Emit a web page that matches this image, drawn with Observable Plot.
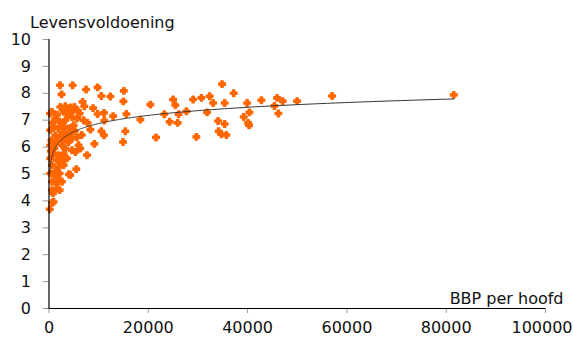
<!DOCTYPE html>
<html><head><meta charset="utf-8">
<script src="https://cdn.jsdelivr.net/npm/d3@7"></script>
<script src="https://cdn.jsdelivr.net/npm/@observablehq/plot@0.6"></script>
<style>body{margin:0;background:#fff;} svg{display:block;}</style>
</head><body><div id="chart"></div>
<script>
// GDP per capita (BBP per hoofd)
const gdp = [
34860,37200,24990,25450,29020,30690,32360,33050,35380,39900,42780,45940,47070,45400,49970,57020,81530,
23230,26110,27670,31840,40360,39210,46200,24300,25910,34050,35380,40100,40300,34170,34720,35730,21560,29680,20410,18400,
9790,15070,10540,12350,14970,8870,9790,11080,12900,15580,11140,8320,10540,11080,15370,9130,14910,
7460,4760,2220,2540,6770,7110,7660,5500,4000,
600,2280,3280,4290,5100,2940,3950,1270,2140,3280,4630,5640,6170,6970,7780,
260,930,1940,2940,3950,4960,1270,2280,3630,4630,5640,5960,260,1270,2620,3950,4630,5300,
930,1940,2940,260,1610,2620,3630,600,1940,2940,260,1070,2140,600,1470,2620,600,1610,2140,800,600,930,150,200,6300,4290,
1600,3600,4500,2600,5200,3000,1800,4100,700,1100,3300,2300,1300,500,6600,5800,400,1700,2900
];
// Life satisfaction (Levensvoldoening)
const satisfaction = [
8.34,8.00,7.77,7.56,7.77,7.83,7.89,7.64,7.64,7.64,7.74,7.83,7.71,7.53,7.71,7.90,7.94,
7.22,7.22,7.33,7.29,7.29,7.12,7.25,6.94,6.90,6.97,6.86,6.90,6.81,6.59,6.48,6.45,6.36,6.38,7.58,7.02,
8.22,8.09,7.90,7.88,7.70,7.45,7.23,7.27,7.15,7.23,6.99,6.65,6.59,6.44,6.59,6.12,6.19,
8.14,8.30,8.30,7.96,7.68,7.52,5.70,5.18,4.99,
7.31,7.49,7.52,7.47,7.49,7.31,7.19,7.06,6.94,7.00,7.12,7.06,7.25,7.00,6.90,
6.63,6.75,6.69,6.75,6.69,6.81,6.44,6.41,6.38,6.32,6.36,6.07,6.07,6.13,6.07,6.19,5.88,5.82,
5.76,5.70,5.76,5.58,5.51,5.45,5.58,5.33,5.26,5.33,5.02,4.96,5.02,4.71,4.65,4.71,4.40,4.46,4.40,4.28,3.93,3.96,3.69,7.25,5.95,4.96,
7.20,7.40,7.30,6.85,6.60,6.55,6.30,6.50,6.90,5.95,5.95,5.60,5.10,6.25,6.45,7.35,5.85,4.85,6.20
];
const xTicks = [0, 20000, 40000, 60000, 80000, 100000];
const yTicks = [0, 1, 2, 3, 4, 5, 6, 7, 8, 9, 10];
const yLabel = "Levensvoldoening";
const xLabel = "BBP per hoofd";

const points = gdp.map((g, i) => ({gdp: g, ls: satisfaction[i]}));

// logarithmic trend line (least squares of y on ln x), as in a spreadsheet trendline
const lx = points.map(d => Math.log(d.gdp));
const mx = d3.mean(lx), my = d3.mean(points, d => d.ls);
const b = d3.sum(points, (d, i) => (lx[i] - mx) * (d.ls - my)) / d3.sum(lx, v => (v - mx) ** 2);
const a = my - b * mx;
const [gmin, gmax] = d3.extent(gdp);
const trend = d3.range(0, 401).map(i => {
  const g = Math.exp(Math.log(gmin) + (Math.log(gmax) - Math.log(gmin)) * i / 400);
  return {gdp: g, ls: a + b * Math.log(g)};
});

const font = "DejaVu Sans, Verdana, sans-serif";
const lastX = xTicks[xTicks.length - 1];
const chart = Plot.plot({
  width: 573,
  height: 338,
  marginLeft: 48.5,
  marginRight: 28,
  marginTop: 39,
  marginBottom: 30,
  style: {fontFamily: font, fontSize: "16px", color: "#111", background: "#fff"},
  x: {domain: [0, 100000]},
  y: {domain: [0, 10]},
  marks: [
    Plot.axisY({ticks: yTicks, tickSize: 6, tickPadding: 12, stroke: "#999", fill: "#111", fontSize: 16, label: null, tickFormat: d => String(d)}),
    Plot.axisX({ticks: xTicks, tickSize: 5, tickPadding: 8, stroke: "#999", fill: "#111", fontSize: 16, label: null,
      tickFormat: d => d === lastX ? "" : d3.format("d")(d)}),
    Plot.axisX({ticks: [lastX], tickSize: 0, tickPadding: 13, fill: "#111", fontSize: 16, label: null, dx: -3.5,
      tickFormat: d3.format("d")}),
    Plot.dot(points, {x: "gdp", y: "ls", symbol: "cross", r: 2.7, fill: "#ff6600", stroke: "#ff6600", strokeWidth: 1.5, strokeLinejoin: "round"}),
    Plot.line(trend, {x: "gdp", y: "ls", stroke: "#333", strokeWidth: 1}),
    Plot.ruleX([0], {y1: 0, y2: 10, stroke: "#000", strokeWidth: 1.2}),
    Plot.ruleY([0], {stroke: "#000", strokeWidth: 1.2}),
    Plot.text([yLabel], {frameAnchor: "top-left", textAnchor: "start", lineAnchor: "bottom", dx: -19, dy: -12, fontSize: 16, fill: "#111"}),
    Plot.text([xLabel], {frameAnchor: "bottom-right", textAnchor: "end", lineAnchor: "bottom", dx: 18, dy: -5, fontSize: 16, fill: "#111"})
  ]
});
document.getElementById("chart").append(chart);
</script>
</body></html>
